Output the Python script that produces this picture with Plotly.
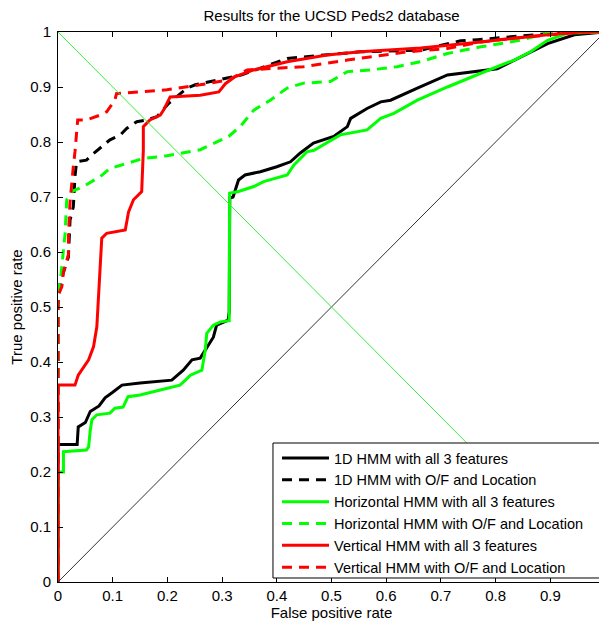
import plotly.graph_objects as go

# ---- data ----
black_solid_x = [0, 0, 0.035, 0.037, 0.05, 0.059, 0.075, 0.086, 0.10, 0.117, 0.15, 0.208, 0.229, 0.245, 0.26, 0.269, 0.284, 0.29, 0.311, 0.313, 0.314, 0.32, 0.33, 0.342, 0.37, 0.40, 0.425, 0.443, 0.467, 0.504, 0.529, 0.535, 0.565, 0.59, 0.608, 0.657, 0.712, 0.803, 0.846, 0.895, 0.944, 1.0]
black_solid_y = [0, 0.25, 0.25, 0.282, 0.29, 0.31, 0.32, 0.335, 0.345, 0.358, 0.362, 0.367, 0.385, 0.404, 0.407, 0.422, 0.445, 0.467, 0.476, 0.491, 0.698, 0.70, 0.731, 0.74, 0.746, 0.755, 0.764, 0.78, 0.798, 0.81, 0.828, 0.843, 0.861, 0.873, 0.876, 0.898, 0.922, 0.933, 0.955, 0.979, 0.995, 1.0]

black_dashed_x = [0, 0, 0.004, 0.007, 0.019, 0.022, 0.028, 0.031, 0.034, 0.052, 0.065, 0.095, 0.114, 0.126, 0.144, 0.162, 0.181, 0.202, 0.223, 0.236, 0.251, 0.336, 0.419, 0.51, 0.553, 0.663, 0.736, 0.767, 0.907, 1.0]
black_dashed_y = [0, 0.50, 0.544, 0.553, 0.591, 0.658, 0.682, 0.737, 0.764, 0.767, 0.779, 0.804, 0.813, 0.825, 0.837, 0.84, 0.846, 0.87, 0.888, 0.898, 0.904, 0.922, 0.952, 0.961, 0.964, 0.967, 0.984, 0.986, 0.998, 1.0]

green_solid_x = [0, 0, 0.01, 0.01, 0.052, 0.056, 0.059, 0.062, 0.071, 0.095, 0.104, 0.119, 0.128, 0.15, 0.187, 0.223, 0.233, 0.242, 0.263, 0.269, 0.272, 0.284, 0.297, 0.313, 0.3137, 0.33, 0.358, 0.376, 0.419, 0.431, 0.455, 0.468, 0.516, 0.565, 0.59, 0.614, 0.657, 0.712, 0.773, 0.834, 0.864, 0.895, 0.932, 1.0]
green_solid_y = [0, 0.20, 0.20, 0.237, 0.24, 0.246, 0.276, 0.295, 0.304, 0.307, 0.316, 0.318, 0.337, 0.34, 0.349, 0.358, 0.367, 0.376, 0.385, 0.42, 0.452, 0.467, 0.473, 0.475, 0.707, 0.71, 0.719, 0.728, 0.74, 0.758, 0.782, 0.785, 0.813, 0.822, 0.843, 0.852, 0.876, 0.9, 0.925, 0.949, 0.964, 0.985, 0.998, 1.0]

green_dashed_x = [0, 0, 0.004, 0.007, 0.01, 0.013, 0.016, 0.025, 0.046, 0.077, 0.095, 0.126, 0.156, 0.199, 0.26, 0.312, 0.333, 0.358, 0.388, 0.419, 0.449, 0.498, 0.529, 0.571, 0.62, 0.663, 0.712, 0.773, 0.846, 0.895, 0.974, 1.0]
green_dashed_y = [0, 0.519, 0.544, 0.571, 0.604, 0.634, 0.695, 0.71, 0.719, 0.737, 0.752, 0.761, 0.77, 0.775, 0.786, 0.81, 0.828, 0.858, 0.876, 0.898, 0.907, 0.91, 0.928, 0.931, 0.937, 0.946, 0.961, 0.973, 0.985, 0.998, 1.0, 1.0]

red_solid_x = [0, 0, 0.031, 0.037, 0.056, 0.065, 0.071, 0.074, 0.077, 0.08, 0.089, 0.123, 0.129, 0.138, 0.153, 0.156, 0.156, 0.168, 0.187, 0.193, 0.205, 0.26, 0.294, 0.306, 0.324, 0.358, 0.419, 0.492, 0.553, 0.663, 0.773, 0.895, 0.956, 1.0]
red_solid_y = [0, 0.358, 0.358, 0.376, 0.404, 0.428, 0.464, 0.513, 0.579, 0.625, 0.634, 0.64, 0.673, 0.695, 0.71, 0.785, 0.828, 0.84, 0.849, 0.858, 0.882, 0.885, 0.891, 0.906, 0.919, 0.931, 0.946, 0.958, 0.964, 0.971, 0.982, 0.995, 1.0, 1.0]

red_dashed_x = [0, 0, 0.007, 0.01, 0.019, 0.019, 0.022, 0.025, 0.028, 0.031, 0.034, 0.036, 0.052, 0.077, 0.089, 0.104, 0.107, 0.15, 0.199, 0.26, 0.312, 0.346, 0.449, 0.529, 0.571, 0.639, 0.712, 0.773, 0.834, 0.895, 0.956, 1.0]
red_dashed_y = [0, 0.52, 0.537, 0.564, 0.595, 0.628, 0.69, 0.731, 0.755, 0.782, 0.816, 0.84, 0.84, 0.849, 0.855, 0.876, 0.888, 0.891, 0.895, 0.904, 0.913, 0.931, 0.937, 0.949, 0.955, 0.964, 0.97, 0.982, 0.989, 0.995, 1.0, 1.0]

diag_x = [0, 1]
chance_y = [0, 1]
eer_y = [1, 0]

names = [
    "1D HMM with all 3 features",
    "1D HMM with O/F and Location",
    "Horizontal HMM with all 3 features",
    "Horizontal HMM with O/F and Location",
    "Vertical HMM with all 3 features",
    "Vertical HMM with O/F and Location",
]

FONT = "Liberation Sans, Arial, Helvetica, sans-serif"
FS = 15
DASH = "10px,7px"

series = [
    (black_solid_x, black_solid_y, "#000000", "solid"),
    (black_dashed_x, black_dashed_y, "#000000", DASH),
    (green_solid_x, green_solid_y, "#00ff00", "solid"),
    (green_dashed_x, green_dashed_y, "#00ff00", DASH),
    (red_solid_x, red_solid_y, "#ff0000", "solid"),
    (red_dashed_x, red_dashed_y, "#ff0000", DASH),
]

fig = go.Figure()
for (xs, ys, col, dash), nm in zip(series, names):
    fig.add_trace(go.Scatter(x=xs, y=ys, mode="lines", name=nm,
                             line=dict(color=col, width=3, dash=dash)))

fig.add_trace(go.Scatter(x=diag_x, y=chance_y, mode="lines", showlegend=False,
                         line=dict(color="#333333", width=1)))
fig.add_trace(go.Scatter(x=diag_x, y=eer_y, mode="lines", showlegend=False,
                         line=dict(color="#33ee33", width=1)))

axis_common = dict(
    range=[0, 1], dtick=0.1, tick0=0, ticks="inside", ticklen=5,
    tickcolor="black", showline=True, linecolor="black", linewidth=1,
    mirror="ticks", showgrid=False, zeroline=False, automargin=False,
    tickfont=dict(family=FONT, size=FS, color="black"),
)

# legend frame (MATLAB-style box)
fig.add_shape(type="rect", xref="paper", yref="paper",
              x0=0.393, x1=0.998, y0=0.0073, y1=0.2527,
              line=dict(color="black", width=1), fillcolor="white", layer="above")

# The page body adds an 8px offset, so the figure is sized to fit the window.
W, H = 599, 617
fig.update_layout(
    width=W, height=H,
    margin=dict(l=50, r=2, t=24, b=43, autoexpand=False),
    paper_bgcolor="white", plot_bgcolor="white",
    font=dict(family=FONT, size=FS, color="black"),
    title=dict(text="Results for the UCSD Peds2 database", x=0.5, xref="paper",
               y=1 - 8 / H, yanchor="middle",
               font=dict(family=FONT, size=FS, color="black")),
    xaxis=dict(axis_common, title=dict(text="False positive rate", standoff=2,
                                       font=dict(family=FONT, size=FS))),
    yaxis=dict(axis_common, ticklabelstandoff=3,
               title=dict(text="True positive rate", standoff=6,
                          font=dict(family=FONT, size=FS))),
    legend=dict(x=0.4004, y=0.2545, xanchor="left", yanchor="top",
                bgcolor="rgba(0,0,0,0)", borderwidth=0,
                itemwidth=47, font=dict(family=FONT, size=14.5, color="black"),
                tracegroupgap=0),
    showlegend=True,
)

fig.write_html("out.html")
